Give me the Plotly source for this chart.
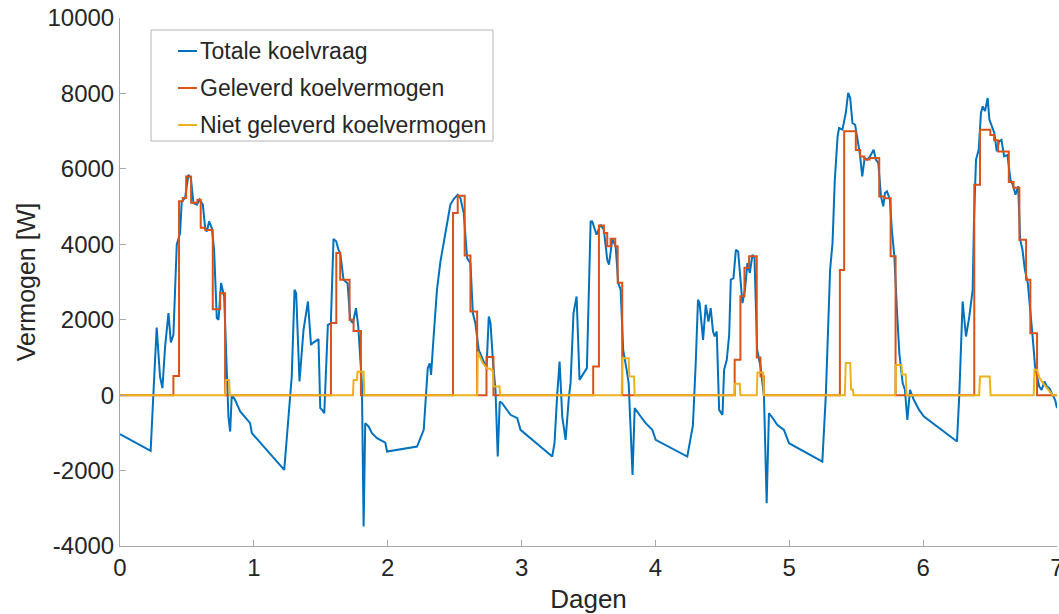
import plotly.graph_objects as go

# Totale koelvraag (demand), fine time resolution, in days / W
demand_days = [
    0.000, 0.229, 0.249, 0.274, 0.299, 0.317, 0.337, 0.362, 0.380, 0.399,
    0.424, 0.449, 0.461, 0.486, 0.511, 0.529, 0.549, 0.574, 0.594, 0.619,
    0.636, 0.648, 0.666, 0.686, 0.703, 0.723, 0.736, 0.755, 0.778, 0.798,
    0.810, 0.823, 0.835, 0.860, 0.898, 0.972, 0.985, 1.227, 1.271, 1.283,
    1.304, 1.316, 1.341, 1.371, 1.404, 1.427, 1.447, 1.483, 1.496, 1.510,
    1.526, 1.553, 1.575, 1.595, 1.615, 1.632, 1.645, 1.670, 1.700, 1.720,
    1.740, 1.763, 1.780, 1.795, 1.807, 1.820, 1.832, 1.857, 1.882, 1.920,
    1.982, 1.995, 2.219, 2.269, 2.289, 2.299, 2.314, 2.324, 2.343, 2.368,
    2.394, 2.431, 2.468, 2.493, 2.523, 2.543, 2.568, 2.593, 2.618, 2.636,
    2.655, 2.680, 2.738, 2.755, 2.768, 2.787, 2.805, 2.822, 2.837, 2.855,
    2.892, 2.917, 2.968, 2.992, 3.229, 3.246, 3.266, 3.284, 3.304, 3.329,
    3.354, 3.366, 3.388, 3.411, 3.433, 3.458, 3.488, 3.516, 3.528, 3.560,
    3.590, 3.615, 3.640, 3.653, 3.678, 3.703, 3.722, 3.740, 3.759, 3.785,
    3.800, 3.829, 3.845, 3.890, 3.927, 3.977, 4.002, 4.238, 4.280, 4.301,
    4.318, 4.330, 4.356, 4.376, 4.396, 4.413, 4.430, 4.443, 4.458, 4.476,
    4.501, 4.513, 4.533, 4.551, 4.563, 4.583, 4.601, 4.618, 4.637, 4.650,
    4.669, 4.687, 4.705, 4.725, 4.740, 4.760, 4.785, 4.811, 4.831, 4.848,
    4.868, 4.910, 4.960, 4.998, 5.247, 5.273, 5.305, 5.323, 5.340, 5.361,
    5.372, 5.397, 5.422, 5.440, 5.455, 5.472, 5.492, 5.510, 5.528, 5.545,
    5.563, 5.583, 5.603, 5.630, 5.647, 5.665, 5.685, 5.702, 5.715, 5.730,
    5.752, 5.766, 5.785, 5.804, 5.822, 5.847, 5.864, 5.882, 5.902, 5.930,
    5.970, 6.006, 6.133, 6.253, 6.270, 6.295, 6.320, 6.345, 6.370, 6.380,
    6.395, 6.415, 6.432, 6.445, 6.462, 6.482, 6.495, 6.512, 6.532, 6.550,
    6.567, 6.585, 6.605, 6.630, 6.652, 6.670, 6.690, 6.710, 6.725, 6.742,
    6.760, 6.782, 6.802, 6.820, 6.836, 6.850, 6.867, 6.885, 6.906, 6.925,
    6.943, 6.968, 6.986, 7.000,
]
demand_w = [
    -1035, -1478, 0, 1794, 494, 185, 1290, 2175, 1396, 1600,
    3987, 4297, 5137, 5226, 5844, 5757, 5094, 5050, 5181, 5050,
    4430, 4340, 4606, 4430, 3855, 2043, 2000, 2971, 2620, 494,
    -567, -965, 8, -130, -434, -743, -1008, -1982, 0, 494,
    2794, 2700, 361, 1732, 2484, 1334, 1400, 1485, -345, -390,
    -478, 1865, 1900, 4139, 4080, 3855, 3770, 3059, 2970, 1998,
    1910, 2307, 1820, 1114, 318, -3485, -743, -830, -1008, -1140,
    -1257, -1495, -1363, -920, 0, 716, 845, 539, 1555, 2794,
    3545, 4297, 5049, 5200, 5314, 5225, 4828, 3634, 3500, 2175,
    1900, 1202, 716, 2086, 1910, 849, 142, -1628, -169, -213,
    -390, -522, -611, -920, -1628, -1275, 0, 892, -567, -1186,
    -30, 318, 2175, 2617, 405, 540, 716, 4606, 4606, 4253,
    4518, 4385, 3590, 3458, 4139, 3945, 2971, 2800, 1202, 671,
    318, -2114, -345, -567, -743, -920, -1186, -1628, -800, 849,
    2528, 2440, 1467, 2396, 1953, 2307, 1690, 1555, 1690, -390,
    -522, 671, 936, 1600, 3059, 3104, 3855, 3810, 2971, 2440,
    2794, 3502, 3240, 3722, 3634, 1202, 760, -30, -2865, -478,
    -567, -788, -920, -1274, -1761, 0, 3324, 4032, 5712, 6861,
    7083, 7040, 7481, 8012, 7879, 7216, 7170, 6818, 6375, 5799,
    6287, 6245, 6330, 6508, 6245, 6155, 5270, 5005, 5360, 5403,
    5180, 4385, 3678, 2263, 1114, 318, 141, -655, 141, -124,
    -390, -567, -920, -1230, 0, 2484, 1555, 2086, 2794, 4651,
    6243, 6508, 7481, 7657, 7530, 7879, 7304, 7130, 6951, 6463,
    6728, 6770, 6330, 6370, 5712, 5580, 5314, 5535, 4120, 3855,
    3324, 2971, 2263, 1467, 759, 495, 229, 140, 361, 229,
    185, 0, -130, -345,
]

# Geleverd koelvermogen (delivered), held constant until the next change
delivered_days = [
    0.000, 0.399, 0.441, 0.469, 0.494, 0.531, 0.578, 0.603, 0.636, 0.693,
    0.748, 0.785, 1.576, 1.616, 1.645, 1.715, 1.745, 1.800, 2.488, 2.523,
    2.575, 2.618, 2.668, 2.738, 2.790, 3.535, 3.578, 3.615, 3.640, 3.665,
    3.700, 3.718, 3.752, 4.592, 4.635, 4.665, 4.700, 4.757, 4.785, 4.810,
    5.378, 5.410, 5.497, 5.530, 5.560, 5.600, 5.672, 5.710, 5.757, 5.794,
    6.382, 6.425, 6.502, 6.530, 6.560, 6.640, 6.675, 6.719, 6.769, 6.801,
    6.851, 7.000,
]
delivered_w = [
    0, 510, 5140, 5230, 5800, 5100, 5180, 4440, 4380, 2280,
    2700, 0, 1910, 3770, 3060, 2000, 1700, 0, 4830, 5290,
    3700, 2220, 0, 1010, 0, 760, 4500, 4300, 3950, 4150,
    3950, 2980, 0, 940, 2620, 3380, 3680, 1000, 500, 0,
    3320, 7000, 6500, 6330, 6250, 6290, 5270, 5220, 3680, 0,
    5580, 7040, 6900, 6760, 6460, 5650, 5500, 4120, 3060, 1640,
    0, 0,
]

# Niet geleverd koelvermogen (not delivered)
undelivered_days = [
    0.000, 0.785, 0.790, 0.815, 0.820, 1.740, 1.745, 1.770, 1.775, 1.820,
    1.825, 2.668, 2.673, 2.690, 2.710, 2.738, 2.760, 2.785, 2.790, 2.835,
    2.840, 3.748, 3.752, 3.800, 3.805, 3.840, 3.845, 4.588, 4.595, 4.630,
    4.635, 4.757, 4.762, 4.805, 4.810, 5.415, 5.422, 5.455, 5.462, 5.475,
    5.480, 5.792, 5.797, 5.838, 5.843, 5.870, 5.876, 6.418, 6.425, 6.497,
    6.504, 6.826, 6.832, 6.850, 6.870, 6.900, 6.930, 6.968, 7.000,
]
undelivered_w = [
    0, 0, 400, 400, 0, 0, 400, 400, 620, 620,
    0, 0, 1150, 1000, 850, 720, 700, 650, 230, 230,
    0, 0, 980, 980, 494, 494, 0, 0, 300, 300,
    0, 0, 600, 600, 0, 0, 850, 850, 150, 150,
    0, 0, 800, 800, 550, 550, 0, 0, 494, 494,
    0, 0, 671, 671, 450, 300, 180, 0, 0,
]

x_ticks = [0, 1, 2, 3, 4, 5, 6, 7]
y_ticks = [-4000, -2000, 0, 2000, 4000, 6000, 8000, 10000]
series_names = ["Totale koelvraag", "Geleverd koelvermogen", "Niet geleverd koelvermogen"]

BLUE = "#0072BD"
ORANGE = "#D95319"
YELLOW = "#EDB120"
COLORS = [BLUE, ORANGE, YELLOW]
AXIS = "#a8a8a8"
TEXT = "#262626"
FONT = "Liberation Sans, Arial, Helvetica, sans-serif"

# plot area in pixels (used to place the legend box in paper coordinates)
W, H = 1059, 614
ML, MR, MT, MB = 120, 2, 18, 68
PW, PH = W - ML - MR, H - MT - MB


def px(x):
    return (x - ML) / PW


def py(y):
    return (H - MB - y) / PH


fig = go.Figure()
fig.add_trace(go.Scatter(
    x=demand_days, y=demand_w, mode="lines", name=series_names[0],
    line=dict(color=BLUE, width=2),
))
fig.add_trace(go.Scatter(
    x=delivered_days, y=delivered_w, mode="lines", name=series_names[1],
    line=dict(color=ORANGE, width=2, shape="hv"),
))
fig.add_trace(go.Scatter(
    x=undelivered_days, y=undelivered_w, mode="lines", name=series_names[2],
    line=dict(color=YELLOW, width=2),
))

# legend box with short line samples
shapes = [dict(
    type="rect", xref="paper", yref="paper",
    x0=px(151), x1=px(493), y0=py(141), y1=py(30),
    line=dict(color="#b4b4b4", width=1), fillcolor="white", layer="above",
)]
annotations = []
row_y = [51, 88, 125]
for name, color, ry in zip(series_names, COLORS, row_y):
    shapes.append(dict(
        type="line", xref="paper", yref="paper",
        x0=px(178), x1=px(197), y0=py(ry), y1=py(ry),
        line=dict(color=color, width=2), layer="above",
    ))
    annotations.append(dict(
        text=name, xref="paper", yref="paper", x=px(198), y=py(ry),
        xanchor="left", yanchor="middle", showarrow=False,
        font=dict(size=23, color=TEXT, family=FONT),
    ))

fig.update_layout(
    width=W, height=H,
    margin=dict(l=ML, r=MR, t=MT, b=MB, autoexpand=False),
    paper_bgcolor="white", plot_bgcolor="white",
    font=dict(family=FONT, color=TEXT, size=22),
    showlegend=False,
    shapes=shapes, annotations=annotations,
    xaxis=dict(
        range=[0, 7], tickvals=x_ticks, ticktext=[str(v) for v in x_ticks],
        showline=True, linecolor=AXIS, linewidth=1, mirror=False,
        ticks="inside", ticklen=6, tickcolor=AXIS, automargin=False,
        showgrid=False, zeroline=False, ticklabeloverflow="allow",
        tickfont=dict(size=24), title=dict(text="Dagen", font=dict(size=26), standoff=10),
    ),
    yaxis=dict(
        range=[-4000, 10000], tickvals=y_ticks, ticktext=[str(v) for v in y_ticks],
        showline=True, linecolor=AXIS, linewidth=1, mirror=False,
        ticks="inside", ticklen=6, tickcolor=AXIS, automargin=False,
        showgrid=False, zeroline=False, ticklabeloverflow="allow",
        tickfont=dict(size=24), title=dict(text="Vermogen [W]", font=dict(size=25), standoff=4),
    ),
)

fig.write_html("out.html")
